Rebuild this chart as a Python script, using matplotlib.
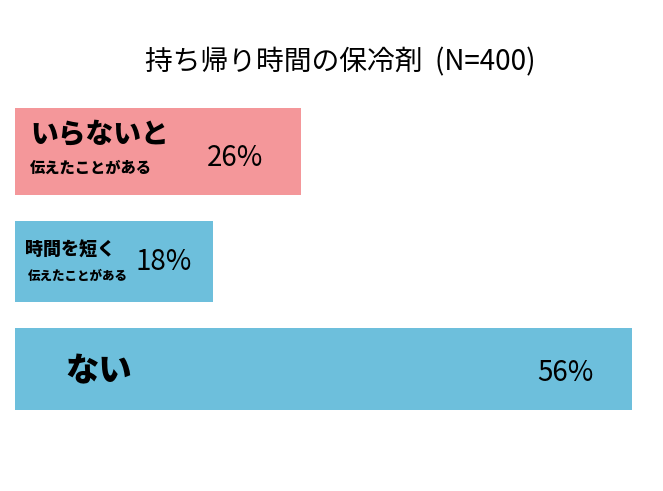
import matplotlib
matplotlib.use("Agg")
import matplotlib.pyplot as plt

plt.rcParams['font.family'] = ['Noto Sans CJK JP', 'DejaVu Sans']

main_labels = ["いらないと", "時間を短く", "ない"]
sub_labels = ["伝えたことがある", "伝えたことがある", ""]
values = [26, 18, 56]
colors = ["#F4979A", "#6DBFDC", "#6DBFDC"]
title = "持ち帰り時間の保冷剤  (N=400)"

fig = plt.figure(figsize=(6.63, 4.91), dpi=100)
ax = fig.add_axes([15/663, 0, (632-15)/663, 1])
ax.set_xlim(0, 56)
ax.set_ylim(491, 0)
ax.axis('off')

ycent = [151.5, 261.5, 369]
heights = [87, 81, 82]
ax.barh(ycent, values, height=heights, color=colors, edgecolor='none')

px = 56/617  # data units per pixel
# bar 1
ax.text(15*px, 135, main_labels[0], fontsize=20, fontweight='heavy', va='center', ha='left')
ax.text(15*px, 168, sub_labels[0], fontsize=11, fontweight='heavy', va='center', ha='left')
ax.text(values[0]-95*px, 158, f"{values[0]}%", fontsize=20, va='center', ha='left')
# bar 2
ax.text(10*px, 250, main_labels[1], fontsize=13, fontweight='heavy', va='center', ha='left')
ax.text(13*px, 276, sub_labels[1], fontsize=9, fontweight='heavy', va='center', ha='left')
ax.text(values[1]-78*px, 262, f"{values[1]}%", fontsize=20, va='center', ha='left')
# bar 3
ax.text(50*px, 371, main_labels[2], fontsize=24, fontweight='heavy', va='center', ha='left')
ax.text(values[2]-95*px, 373, f"{values[2]}%", fontsize=20, va='center', ha='left')

fig.text(340/663, 1-62/491, title, fontsize=20, ha='center', va='center')
fig.savefig("out.png", dpi=100)
